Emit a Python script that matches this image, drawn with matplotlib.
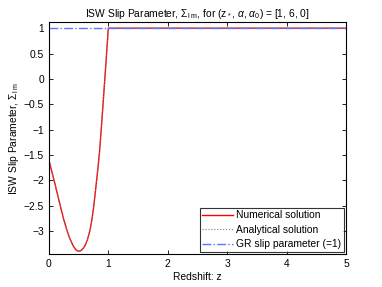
import numpy as np
import matplotlib.pyplot as plt

plt.switch_backend('agg')
plt.rcParams['font.family'] = ['Liberation Sans', 'DejaVu Sans']
plt.rcParams['mathtext.fontset'] = 'custom'
plt.rcParams['mathtext.rm'] = 'Liberation Sans'
plt.rcParams['mathtext.it'] = 'Liberation Sans:italic'

# Redshift samples and slip parameter
z = [0.0, 0.05, 0.1, 0.15, 0.2, 0.25, 0.3, 0.35, 0.4, 0.425, 0.45, 0.475,
     0.5, 0.525, 0.55, 0.575, 0.6, 0.625, 0.65, 0.675, 0.7, 0.725, 0.75,
     0.775, 0.8, 0.825, 0.85, 0.875, 0.9, 0.95, 1.0, 5.0]
sigma_num = [-1.6, -1.83, -2.06, -2.3, -2.54, -2.77, -2.97, -3.14, -3.27,
             -3.32, -3.36, -3.385, -3.395, -3.39, -3.37, -3.34, -3.3, -3.24,
             -3.16, -3.06, -2.93, -2.76, -2.55, -2.3, -2.03, -1.76, -1.46,
             -1.08, -0.68, 0.15, 1.0, 1.0]
sigma_ana = sigma_num
z_gr = [0.0, 5.0]
sigma_gr = [1.0, 1.0]

fig = plt.figure(figsize=(3.82, 2.87), dpi=100)
ax = fig.add_axes([0.128, 0.115, 0.778, 0.808])

ax.plot(z, sigma_num, color='red', lw=1.0, label='Numerical solution')
ax.plot(z, sigma_ana, color='#808080', lw=0.8, ls=':', label='Analytical solution')
ax.plot(z_gr, sigma_gr, color='#5a78ff', lw=1.0, ls='-.', label='GR slip parameter (=1)')

ax.set_xlim(0, 5)
ax.set_ylim(-3.45, 1.12)
ax.set_xticks([0, 1, 2, 3, 4, 5])
ax.set_yticks([-3, -2.5, -2, -1.5, -1, -0.5, 0, 0.5, 1])
ax.set_yticklabels(['\u22123', '\u22122.5', '\u22122', '\u22121.5', '\u22121',
                    '\u22120.5', '0', '0.5', '1'])
ax.tick_params(direction='in', top=True, right=True, labelsize=7.4, length=3, width=0.6)
for s in ax.spines.values():
    s.set_linewidth(0.8)

ax.set_xlabel('Redshift: z', fontsize=7.4, labelpad=2)
ax.set_ylabel(r'ISW Slip Parameter, $\Sigma_{\rm l\ m}$', fontsize=7.4, labelpad=2)
ax.set_title(r'ISW Slip Parameter, $\Sigma_{\rm l\ m}$, for (z$_{\rm *}$, $\alpha$, $\alpha_{\rm 0}$) = [1, 6, 0]',
             fontsize=7.4, pad=4)

leg = ax.legend(loc='lower right', fontsize=7.4, frameon=True, fancybox=False,
                edgecolor='black', borderpad=0.25, labelspacing=0.45,
                handlelength=3.0, handletextpad=0.3, borderaxespad=0.2)
leg.get_frame().set_linewidth(0.8)

plt.savefig('out.png', dpi=100)
